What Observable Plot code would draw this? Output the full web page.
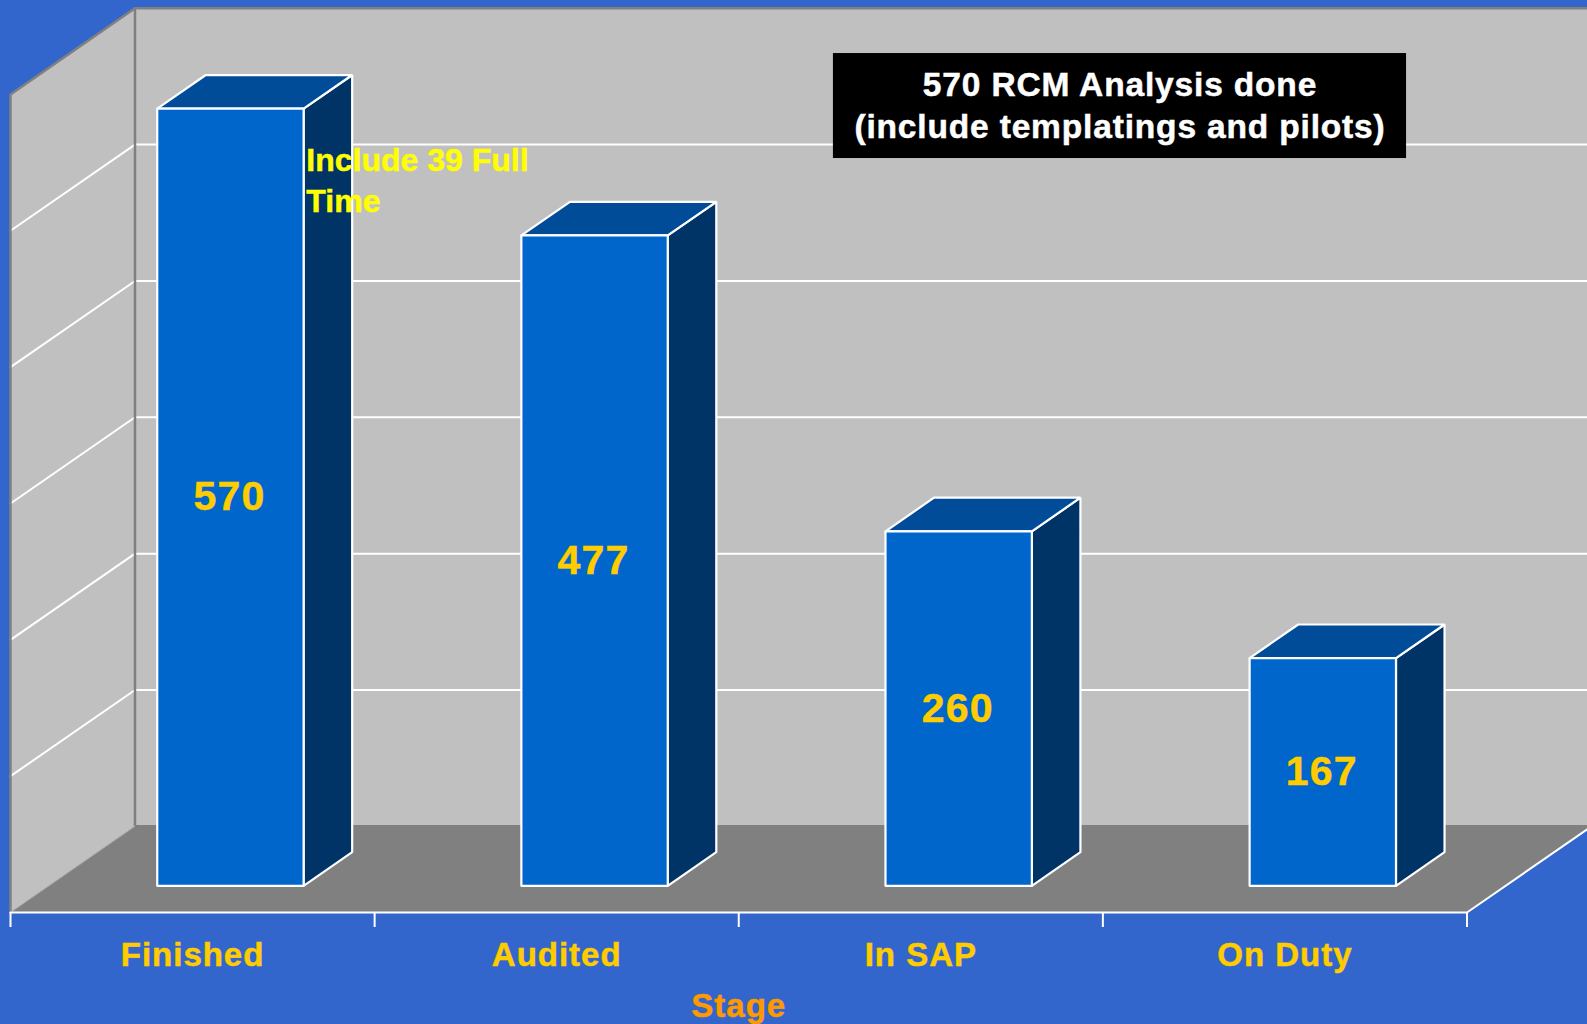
<!DOCTYPE html>
<html>
<head>
<meta charset="utf-8">
<script src="https://cdn.jsdelivr.net/npm/d3@7"></script>
<script src="https://cdn.jsdelivr.net/npm/@observablehq/plot@0.6"></script>
<style>
  html, body { margin: 0; padding: 0; background: #3366CC; overflow: hidden; }
  svg { display: block; }
  svg text { letter-spacing: 0.03em; stroke-width: 0.5px; }
  svg g[fill="#FFFFFF"] text { letter-spacing: 0.025em; stroke: #FFFFFF; }
  svg g[fill="#FFFF00"] text { letter-spacing: 0; stroke: #FFFF00; }
  svg g[fill="#FFCC00"] text { stroke: #FFCC00; }
  svg g[fill="#FF9900"] text { stroke: #FF9900; }
</style>
</head>
<body>
<div id="chart"></div>
<script>
// RCM analysis progress per stage
const stages = ["Finished", "Audited", "In SAP", "On Duty"];
const counts = [570, 477, 260, 167];
const gridValues = [100, 200, 300, 400, 500];
const wallTop = 600;

const calloutText = "570 RCM Analysis done\n(include templatings and pilots)";
const noteText = "Include 39 Full\nTime";

// Oblique projection: depth 0 is the front edge of the floor, depth 1 the back wall.
const depthX = 0.3419;   // slots of rightward shift per unit of depth
const depthY = 63.2;     // value units of upward shift per unit of depth
const project = (slot, value, depth) => ({x: slot + depth * depthX, y: value + depth * depthY});

// Bar footprint inside each slot
const barStart = 0.297, barEnd = 0.699, barFront = 0.31, barBack = 0.70;

const poly = (id, corners) => [...corners, corners[0]].map(([s, v, d]) => ({id, ...project(s, v, d)}));
const path = (id, corners) => corners.map(([s, v, d]) => ({id, ...project(s, v, d)}));
const shape = (polys, options) => Plot.line(polys.flat(), {x: "x", y: "y", z: "id", curve: "linear", strokeLinejoin: "miter", ...options});

const slots = stages.length;
const bars = stages.map((stage, i) => ({stage, value: counts[i], a: i + barStart, b: i + barEnd}));

const frontFaces = bars.map(d => poly(d.stage, [[d.a, 0, barFront], [d.b, 0, barFront], [d.b, d.value, barFront], [d.a, d.value, barFront]]));
const topFaces = bars.map(d => poly(d.stage, [[d.a, d.value, barFront], [d.b, d.value, barFront], [d.b, d.value, barBack], [d.a, d.value, barBack]]));
const sideFaces = bars.map(d => poly(d.stage, [[d.b, 0, barFront], [d.b, 0, barBack], [d.b, d.value, barBack], [d.b, d.value, barFront]]));

const labelPoints = bars.map(d => ({...project((d.a + d.b) / 2, d.value / 2, barFront), text: String(d.value)}));

const plot = Plot.plot({
  width: 1587,
  height: 1024,
  marginLeft: 10,
  marginRight: 120.5,
  marginTop: 0,
  marginBottom: 112,
  style: {background: "#3366CC", fontFamily: "'Liberation Sans', Arial, sans-serif", fontWeight: "bold", overflow: "hidden"},
  x: {type: "linear", domain: [0, slots]},
  y: {type: "linear", domain: [0, 668.9], axis: null},
  marks: [
    // Chart box: back wall, left wall, floor
    shape([poly("back", [[0, 0, 1], [slots, 0, 1], [slots, wallTop, 1], [0, wallTop, 1]])], {fill: "#C0C0C0", stroke: "none"}),
    shape([poly("left", [[0, 0, 0], [0, 0, 1], [0, wallTop, 1], [0, wallTop, 0]])], {fill: "#C0C0C0", stroke: "none"}),
    shape([poly("floor", [[0, 0, 0], [slots, 0, 0], [slots, 0, 1], [0, 0, 1]])], {fill: "#808080", stroke: "none"}),

    // Gridlines run along the left wall and across the back wall
    shape(gridValues.map(v => path(v, [[0, v, 0], [0, v, 1], [slots, v, 1]])), {stroke: "#FFFFFF", strokeWidth: 2}),

    // Wall outlines
    shape([path("edge", [[0, 0, 0], [0, wallTop, 0], [0, wallTop, 1], [slots, wallTop, 1]])], {stroke: "#808080", strokeWidth: 2.5}),
    shape([path("corner", [[0, wallTop, 1], [0, 0, 1], [slots, 0, 1]])], {stroke: "#808080", strokeWidth: 2.5}),
    shape([path("seam", [[0, 0, 0], [0, 0, 1]])], {stroke: "#A8A8A8", strokeWidth: 1}),

    // Floor edge and category dividers
    shape([path("floorEdge", [[0, 0, 0], [slots, 0, 0], [slots, 0, 1]])], {stroke: "#FFFFFF", strokeWidth: 2}),
    Plot.axisX(d3.range(slots + 1), {tickSize: 15, strokeWidth: 2, stroke: "#FFFFFF", tickFormat: () => null, label: null}),
    Plot.axisX(stages.map((_, i) => i + 0.5), {
      tickSize: 0, tickPadding: 30, fontSize: 33, color: "#FFCC00", label: null,
      tickFormat: d => stages[Math.floor(d)]
    }),
    Plot.axisX({
      ticks: [], label: "Stage", labelAnchor: "center", labelArrow: "none", labelOffset: 104,
      fontSize: 33, color: "#FF9900"
    }),

    // Bars
    shape(sideFaces, {fill: "#003366", stroke: "#FFFFFF", strokeWidth: 2.2}),
    shape(topFaces, {fill: "#004C99", stroke: "#FFFFFF", strokeWidth: 2.2}),
    shape(frontFaces, {fill: "#0066CC", stroke: "#FFFFFF", strokeWidth: 2.2}),
    Plot.text(labelPoints, {x: "x", y: "y", text: "text", fill: "#FFCC00", fontSize: 41, fontWeight: "bold", dx: -1}),

    // Annotations
    Plot.rect([{x1: 2.26, x2: 3.834, y1: 553, y2: 630}], {x1: "x1", x2: "x2", y1: "y1", y2: "y2", fill: "#000000"}),
    Plot.text([calloutText], {x: () => 3.047, y: () => 593.5, text: d => d, fill: "#FFFFFF", fontSize: 33.5, lineHeight: 1.25, fontWeight: "bold"}),
    Plot.text([noteText], {x: () => 0.8125, y: () => 538.5, text: d => d, fill: "#FFFF00", fontSize: 32, lineHeight: 1.27, textAnchor: "start", fontWeight: "bold"})
  ]
});
document.getElementById("chart").append(plot);
</script>
</body>
</html>
